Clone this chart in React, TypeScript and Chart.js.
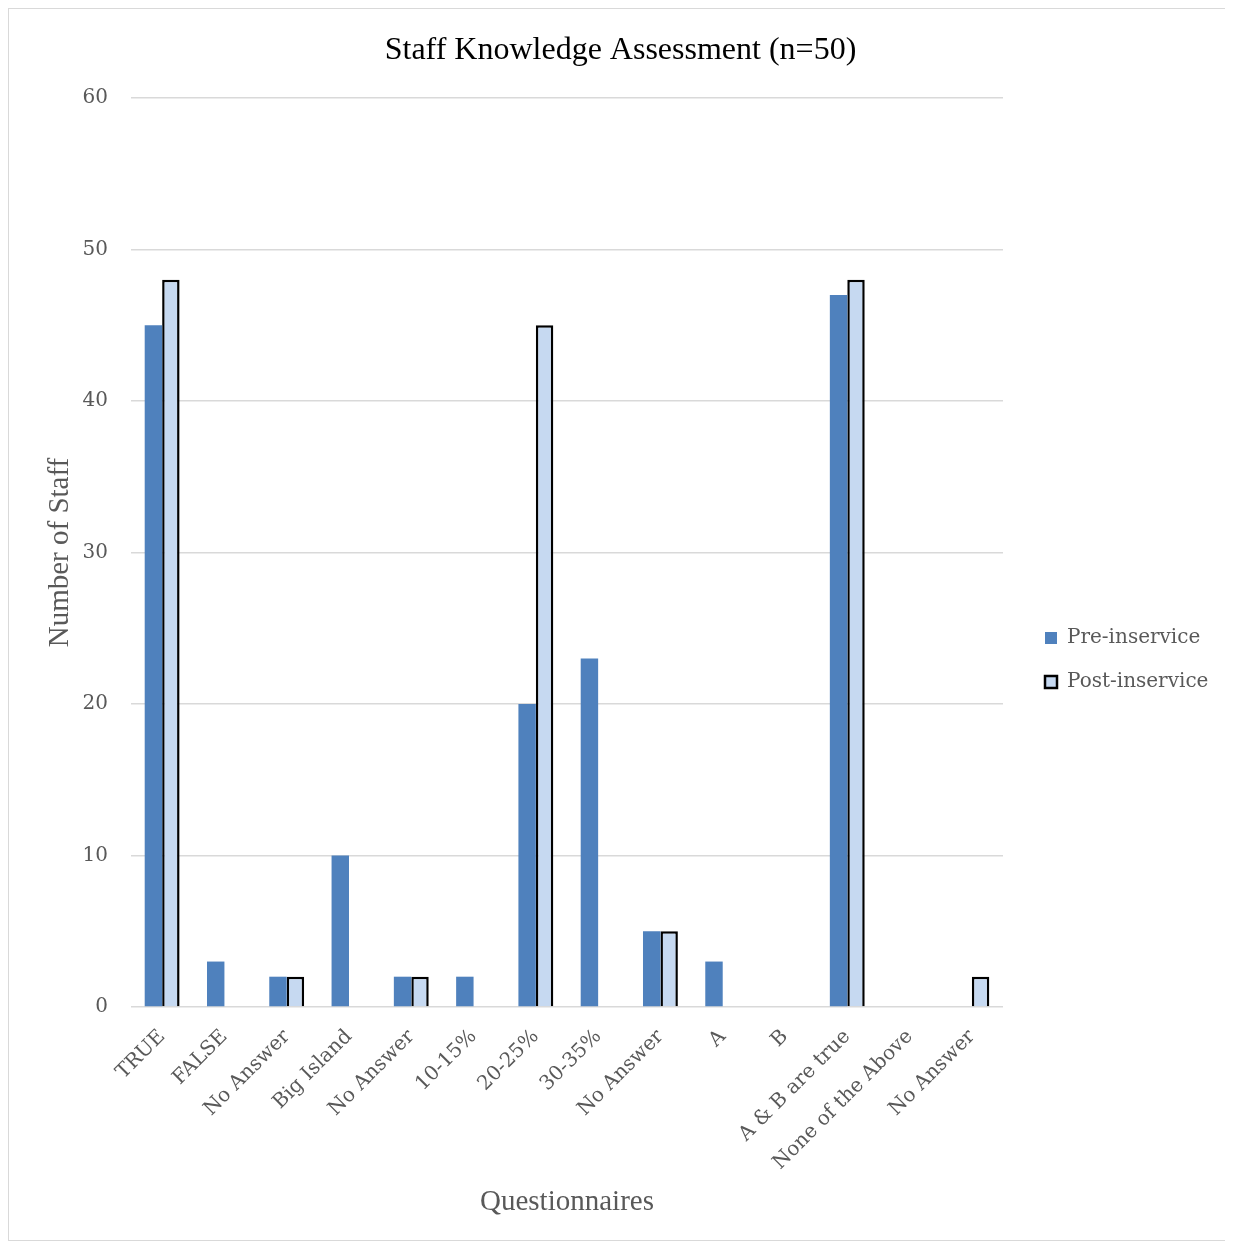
import React, { useEffect, useRef } from "react";
import { Chart, registerables } from "chart.js";

Chart.register(...registerables);

const categories = [
  "TRUE",
  "FALSE",
  "No Answer",
  "Big Island",
  "No Answer",
  "10-15%",
  "20-25%",
  "30-35%",
  "No Answer",
  "A",
  "B",
  "A & B are true",
  "None of the Above",
  "No Answer",
];

const preInservice = [45, 3, 2, 10, 2, 2, 20, 23, 5, 3, 0, 47, 0, 0];
const postInservice = [48, 0, 2, 0, 2, 0, 45, 0, 5, 0, 0, 48, 0, 2];

const yTicks = [0, 10, 20, 30, 40, 50, 60];

const CANVAS_W = 1223;
const CANVAS_H = 1231;

const TEXT_GREY = "#595959";
const GRID_GREY = "#d9d9d9";
const TICK_FONT = "'DejaVu Serif', serif";
const TITLE_FONT = "'Liberation Serif', 'Times New Roman', serif";

// Centres the title on the whole canvas and moves the right-hand legend
// next to the plot, vertically centred on it.
const blockPlacement = {
  id: "blockPlacement",
  afterLayout(chart: any) {
    const tb: any = chart.titleBlock;
    if (tb) {
      tb.left = 0;
      tb.right = chart.width;
      tb.width = chart.width;
    }
    const lg: any = chart.legend;
    if (!lg || !lg.columnSizes || !lg.columnSizes.length) return;
    const pad = lg.options.labels.padding;
    const boxLeft = 1036;
    const firstItemTop = 619;
    const dx = boxLeft - pad - lg.left;
    const colH = lg.columnSizes[0].height;
    const curTop = (lg.top + pad + lg.bottom - colH) / 2;
    const dy = firstItemTop - curTop;
    lg.left += dx;
    lg.right = chart.width;
    lg.width = lg.right - lg.left;
    lg.top += dy;
    lg.bottom += dy;
  },
};

export default function App() {
  const canvasRef = useRef<HTMLCanvasElement | null>(null);

  useEffect(() => {
    const canvas = canvasRef.current;
    if (!canvas) return;
    const chart = new Chart(canvas, {
      type: "bar",
      data: {
        labels: categories,
        datasets: [
          {
            label: "Pre-inservice",
            data: preInservice,
            backgroundColor: "#4f81bd",
            borderWidth: 0,
          },
          {
            label: "Post-inservice",
            data: postInservice,
            backgroundColor: "#c6d9f1",
            borderColor: "#000000",
            borderWidth: 2.5,
            borderSkipped: "bottom",
          },
        ],
      },
      options: {
        responsive: false,
        animation: false,
        layout: { padding: { left: 0, right: 79, top: 0, bottom: 0 } },
        datasets: {
          bar: { categoryPercentage: 0.56, barPercentage: 1 },
        },
        plugins: {
          title: {
            display: true,
            text: "Staff Knowledge Assessment (n=50)",
            color: "#000000",
            font: { family: TITLE_FONT, size: 32, weight: "normal" },
            padding: { top: 22, bottom: 28.6 },
          },
          legend: {
            position: "right",
            maxWidth: 150,
            labels: {
              color: TEXT_GREY,
              font: { family: TICK_FONT, size: 20 },
              boxWidth: 12,
              boxHeight: 12,
              padding: 24,
            },
          },
          tooltip: { enabled: false },
        },
        scales: {
          x: {
            grid: { display: false, drawTicks: false },
            border: { display: false },
            ticks: {
              autoSkip: false,
              minRotation: 45,
              maxRotation: 45,
              padding: 18,
              color: TEXT_GREY,
              font: { family: TICK_FONT, size: 20 },
            },
            title: {
              display: true,
              text: "Questionnaires",
              color: TEXT_GREY,
              font: { family: TITLE_FONT, size: 29 },
              padding: { top: 0, bottom: 20.6 },
            },
            afterFit(scale: any) {
              scale.height = 233;
            },
          },
          y: {
            min: yTicks[0],
            max: yTicks[yTicks.length - 1],
            afterBuildTicks(scale: any) {
              scale.ticks = yTicks.map((v) => ({ value: v }));
            },
            grid: { color: GRID_GREY, lineWidth: 1.5, drawTicks: false },
            border: { display: false },
            ticks: {
              padding: 23,
              color: TEXT_GREY,
              font: { family: TICK_FONT, size: 20 },
            },
            title: {
              display: true,
              text: "Number of Staff",
              color: TEXT_GREY,
              font: { family: TITLE_FONT, size: 29 },
              padding: { top: 33.6, bottom: 0 },
            },
            afterFit(scale: any) {
              scale.width = 122;
            },
          },
        },
      },
      plugins: [blockPlacement],
    });
    return () => chart.destroy();
  }, []);

  return (
    <div
      style={{
        width: 1225,
        height: 1233,
        border: `1px solid ${GRID_GREY}`,
        boxSizing: "border-box",
        background: "#ffffff",
      }}
    >
      <canvas
        ref={canvasRef}
        width={CANVAS_W}
        height={CANVAS_H}
        style={{ display: "block", width: CANVAS_W, height: CANVAS_H }}
      />
    </div>
  );
}
